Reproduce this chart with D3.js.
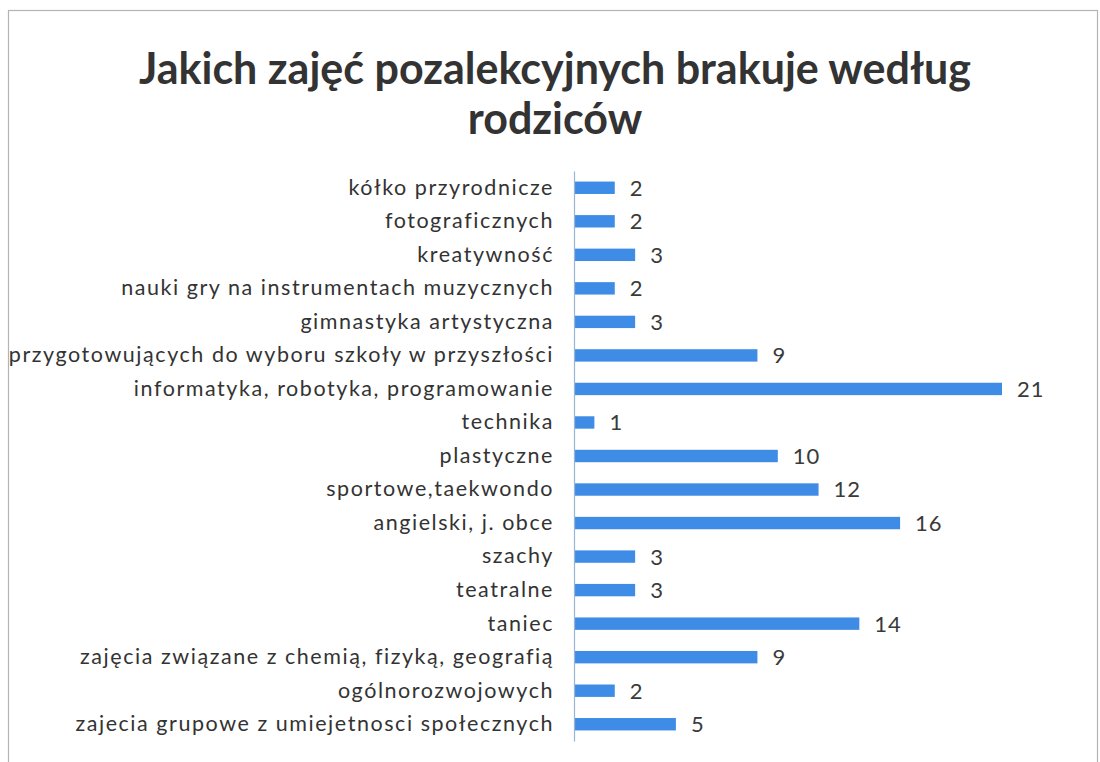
<!DOCTYPE html>
<html>
<head>
<meta charset="utf-8">
<script src="https://cdn.jsdelivr.net/npm/d3@7"></script>
<style>
  body { margin: 0; background: #fff; }
  svg { display: block; }
</style>
</head>
<body>
<div id="chart"></div>
<script>
// Chart data, top row first
const categories = [
  "kółko przyrodnicze",
  "fotograficznych",
  "kreatywność",
  "nauki gry na instrumentach muzycznych",
  "gimnastyka artystyczna",
  "przygotowujących do wyboru szkoły w przyszłości ",
  "informatyka, robotyka, programowanie",
  "technika",
  "plastyczne",
  "sportowe,taekwondo",
  "angielski, j. obce",
  "szachy",
  "teatralne",
  "taniec",
  "zajęcia związane z chemią, fizyką, geografią",
  "ogólnorozwojowych",
  "zajecia grupowe z umiejetnosci społecznych"
];
const values = [2, 2, 3, 2, 3, 9, 21, 1, 10, 12, 16, 3, 3, 14, 9, 2, 5];
const titleLines = ["Jakich zajęć pozalekcyjnych brakuje według", "rodziców"];

const width = 1100;
const height = 762;
const font = "Lato, 'Open Sans', sans-serif";

const svg = d3.select("#chart")
  .append("svg")
  .attr("width", width)
  .attr("height", height);

// outer chart frame (bottom runs off the page)
svg.append("rect")
  .attr("x", 8.5)
  .attr("y", 10.5)
  .attr("width", 1089)
  .attr("height", 800)
  .attr("fill", "#fff")
  .attr("stroke", "#b4b4b4")
  .attr("stroke-width", 1.2);

// title
svg.append("text")
  .attr("text-anchor", "middle")
  .attr("font-family", font)
  .attr("font-weight", "bold")
  .attr("font-size", 43)
  .attr("fill", "#333")
  .selectAll("tspan")
  .data(titleLines)
  .enter().append("tspan")
  .attr("x", 555)
  .attr("y", (d, i) => 84 + i * 50)
  .text(d => d);

// scales
const y = d3.scaleBand()
  .domain(categories)
  .range([171, 741])
  .paddingInner(0.63)
  .paddingOuter(0.315);

const x = d3.scaleLinear()
  .domain([0, d3.max(values)])
  .range([574, 1002]);

const rows = categories.map((c, i) => ({ name: c, value: values[i] }));

// bars
svg.append("g")
  .selectAll("rect")
  .data(rows)
  .enter().append("rect")
  .attr("x", x(0))
  .attr("y", d => y(d.name))
  .attr("width", d => x(d.value) - x(0))
  .attr("height", y.bandwidth())
  .attr("fill", "#3f8ce6");

// category axis
const axis = svg.append("g")
  .attr("transform", `translate(${x(0)},0)`)
  .call(d3.axisLeft(y).tickSize(0).tickPadding(20));

axis.select(".domain")
  .attr("stroke", "#9ab4d4")
  .attr("stroke-width", 1.2);

axis.selectAll("text")
  .attr("font-family", font)
  .attr("font-size", 21.5)
  .attr("letter-spacing", 1.55)
  .attr("fill", "#333");

// value labels
svg.append("g")
  .selectAll("text")
  .data(rows)
  .enter().append("text")
  .attr("x", d => x(d.value) + 15)
  .attr("y", d => y(d.name) + y.bandwidth() / 2)
  .attr("dy", "0.36em")
  .attr("font-family", font)
  .attr("font-size", 22)
  .attr("letter-spacing", 1)
  .attr("fill", "#3a3a3a")
  .text(d => d.value);
</script>
</body>
</html>
